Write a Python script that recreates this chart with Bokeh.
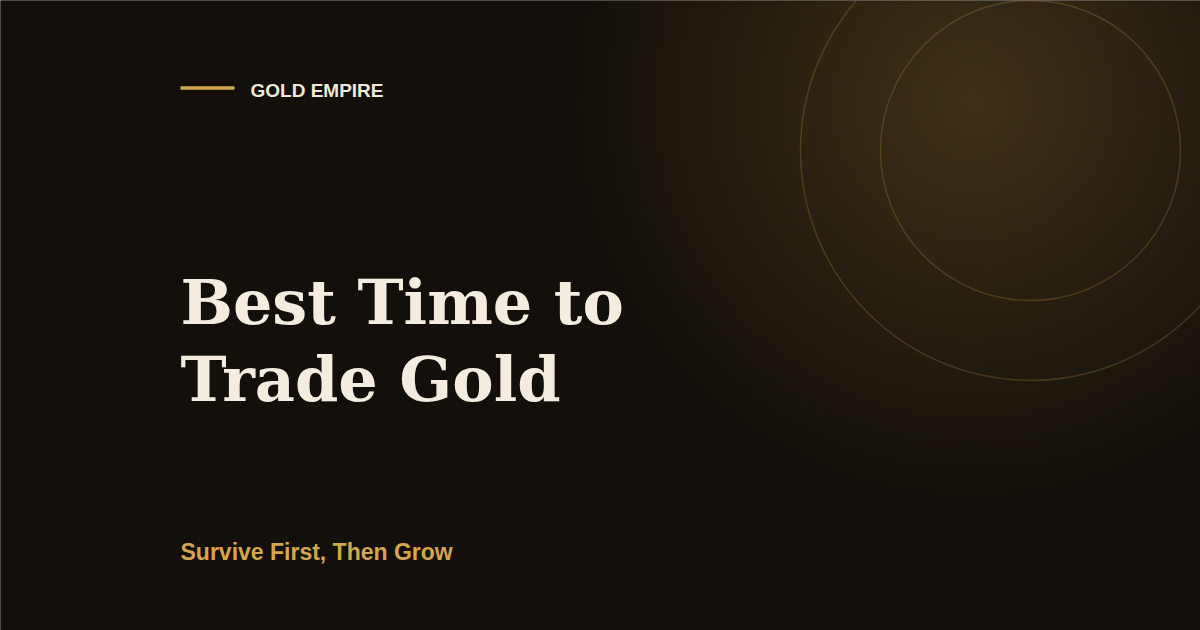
import numpy as np
from bokeh.plotting import figure
from bokeh.models import Range1d
from bokeh.core.properties import value
from bokeh.embed import file_html
from bokeh.resources import INLINE

# ---- content ----
brand = ["GOLD EMPIRE"]
title_lines = ["Best Time to", "Trade Gold"]
subtitle = ["Survive First, Then Grow"]

# ---- palette ----
BG = (19, 15, 10)
GOLD = (212, 169, 78)
GOLD_HEX = "#d4a94e"
CREAM = "#f3ecdf"

W, H = 1200, 630
PAD = 20
def py(y):  # page y (down) -> data y (up)
    return H - y

p = figure(width=W, height=H, output_backend="svg", toolbar_location=None,
           x_range=Range1d(0, W), y_range=Range1d(0, H),
           min_border=0, outline_line_color=None)
p.axis.visible = False
p.grid.visible = False
p.background_fill_color = "#130f0a"
p.border_fill_color = "#130f0a"

# radial gold glow (background decoration), drawn a little beyond the frame
IW, IH = W + 2 * PAD, H + 2 * PAD
nx, ny = IW // 2, IH // 2
xs = -PAD + (np.arange(nx) + 0.5) * IW / nx
ys_page = H + PAD - (np.arange(ny) + 0.5) * IH / ny
X, Y = np.meshgrid(xs, ys_page)
cx, cy, R = 972, 100, 405
d = np.sqrt((X - cx) ** 2 + (Y - cy) ** 2)
a = 0.22 * np.clip(1 - d / R, 0, 1)
r = (BG[0] + a * (GOLD[0] - BG[0])).astype(np.uint32)
g = (BG[1] + a * (GOLD[1] - BG[1])).astype(np.uint32)
b = (BG[2] + a * (GOLD[2] - BG[2])).astype(np.uint32)
img = (255 << 24) | (b << 16) | (g << 8) | r
p.image_rgba(image=[img.astype(np.uint32)], x=-PAD, y=-PAD, dw=IW, dh=IH)

# decorative rings
p.circle(x=[1030, 1030], y=[py(150), py(150)], radius=[150, 230],
         fill_color=None, line_color=GOLD_HEX, line_alpha=0.22, line_width=1.5)

# brand bar + name
p.segment(x0=[180], y0=[py(87.5)], x1=[234], y1=[py(87.5)],
          line_color=GOLD_HEX, line_width=3.5)
p.text(x=[250], y=[py(89.5)], text=brand, text_font=value("Liberation Sans"),
       text_font_style="bold", text_font_size="19px", text_color="#f0e8d8",
       text_baseline="alphabetic", text_align="left")

# title
p.text(x=[180, 180], y=[py(302), py(378.5)], text=title_lines,
       text_font=value("DejaVu Serif"), text_font_style="bold",
       text_font_size="62px", text_color=CREAM,
       text_baseline="alphabetic", text_align="left")

# subtitle
p.text(x=[180], y=[py(551.5)], text=subtitle, text_font=value("Liberation Sans"),
       text_font_style="bold", text_font_size="23px", text_color="#d4a64f",
       text_baseline="alphabetic", text_align="left")

open("out.html", "w").write(file_html(p, INLINE))
